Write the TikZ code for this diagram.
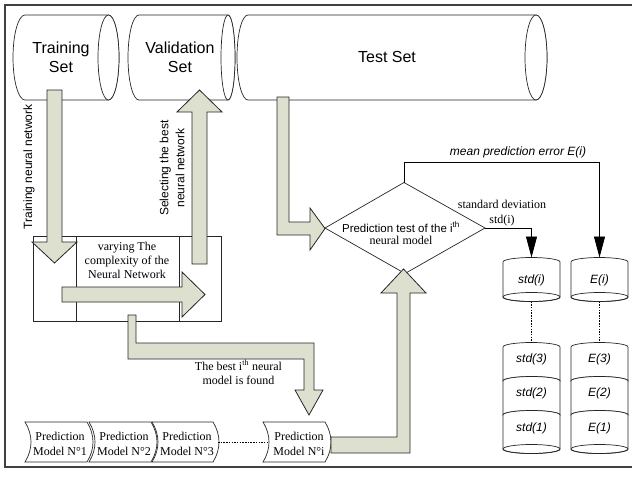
\documentclass[tikz,border=0pt]{standalone}
\usepackage{fontspec}
\setmainfont{Liberation Serif}
\setsansfont{Liberation Sans}
\usetikzlibrary{arrows.meta}
\definecolor{arrowfill}{RGB}{221,224,206}
\newcommand{\myhcyl}[4]{%
 \draw[shp] (#1,15) -- (#2,15)
  .. controls ({#2+0.5523*#4},15) and ({#2+#4},34.03) .. ({#2+#4},57.5)
  .. controls ({#2+#4},80.97) and ({#2+0.5523*#4},100) .. (#2,100)
  -- (#1,100)
  .. controls ({#1-0.5523*#3},100) and ({#1-#3},80.97) .. ({#1-#3},57.5)
  .. controls ({#1-#3},34.03) and ({#1-0.5523*#3},15) .. cycle;
 \draw[shp] (#2,57.5) ellipse [x radius=#4pt, y radius=42.5pt];}
\newcommand{\mydrum}[3]{%
 \draw[shp] ({#1-28.5},#2) .. controls ({#1-28.5},{#2-2.49}) and ({#1-15.74},{#2-4.5}) .. (#1,{#2-4.5})
  .. controls ({#1+15.74},{#2-4.5}) and ({#1+28.5},{#2-2.49}) .. ({#1+28.5},#2)
  -- ({#1+28.5},#3)
  .. controls ({#1+28.5},{#3+2.49}) and ({#1+15.74},{#3+4.5}) .. (#1,{#3+4.5})
  .. controls ({#1-15.74},{#3+4.5}) and ({#1-28.5},{#3+2.49}) .. ({#1-28.5},#3) -- cycle;
 \draw[shp,fill=none] (#1,#3) ellipse [x radius=28.5pt, y radius=4.5pt];}
\newcommand{\mypm}[2]{%
 \draw[shp] (#1,422) -- (#2,422) .. controls ({#2+8},435) and ({#2+8},449) .. (#2,462)
  -- (#1,462) .. controls ({#1+8},449) and ({#1+8},435) .. cycle;}
\begin{document}
\begin{tikzpicture}[x=1pt,y=-1pt,
  blk/.style={fill=arrowfill,draw=black!85,line width=0.8pt,line join=miter},
  shp/.style={draw=black!85,line width=0.7pt,fill=white},
  conn/.style={draw=black,line width=0.9pt},
  arrtip/.style={-{Triangle[length=21pt,width=11pt]}},
  dotln/.style={draw=black,line width=0.7pt,dash pattern=on 1.5pt off 1.2pt},
  sbig/.style={font=\sffamily\fontsize{16}{19}\selectfont,inner sep=0pt,align=center},
  ssmall/.style={font=\sffamily\fontsize{12}{16}\selectfont,inner sep=0pt,align=center},
  sitl/.style={font=\sffamily\itshape\fontsize{12}{14}\selectfont,inner sep=0pt,align=center},
  rm/.style={font=\rmfamily\fontsize{12}{14.5}\selectfont,inner sep=0pt,align=center}]
\useasboundingbox (0,0) rectangle (632,477);
% frame
\draw[line width=1.3pt,draw=black!75] (632,5) -- (5,5) -- (5,467) -- (632,467);
% data sets
\myhcyl{25}{108.5}{12}{10.5}
\myhcyl{139}{228}{11}{7}
\myhcyl{248}{536}{11}{11}
\node[sbig] (ttrain) at (61,57.5) {Training\\Set};
\node[sbig] (tval) at (180,57.5) {Validation\\Set};
\node[sbig] (ttest) at (387,57) {Test Set};
% varying box
\draw[shp] (33,236) rectangle (221,321);
\draw[shp] (76,236) -- (76,321);
\draw[shp] (179,236) -- (179,321);
\node[rm,font=\rmfamily\fontsize{12}{14}\selectfont] (tvary) at (127,260) {varying The\\complexity of the\\Neural Network};
% block arrows
\draw[blk] (47,90) -- (62,90) -- (62,242) -- (77,242) -- (54.5,263) -- (32,242) -- (47,242) -- cycle;
\draw[blk] (192,264) -- (207,264) -- (207,112) -- (222,112) -- (199.5,90) -- (177,112) -- (192,112) -- cycle;
\draw[blk] (62,287) -- (182,287) -- (182,272) -- (205,294.5) -- (182,317) -- (182,302) -- (62,302) -- cycle;
\draw[blk] (128,315) -- (136,315) -- (136,343) -- (314,343) -- (314,390) -- (323,390) -- (309,415) -- (295,390) -- (304,390) -- (304,359) -- (128,359) -- cycle;
\draw[blk] (277,97) -- (289,97) -- (289,222) -- (310,222) -- (310,208) -- (325,228.5) -- (310,250) -- (310,235) -- (277,235) -- cycle;
\node[ssmall,rotate=90] (ltrain) at (29,167) {Training neural network};
\node[ssmall,rotate=90] (lsel) at (172,168) {Selecting the best\\neural network};
\node[rm] (lbest) at (238.5,372.5) {The best i\textsuperscript{th} neural\\model is found};
% diamond
\coordinate (dL) at (325,228);
\coordinate (dT) at (404,182.5);
\coordinate (dR) at (485,228);
\coordinate (dB) at (405,273.5);
\draw[shp] (dL) -- (dT) -- (dR) -- (dB) -- cycle;
\node[font=\sffamily\fontsize{11.5}{14}\selectfont,inner sep=0pt] (dtxt1) at (401,227) {Prediction test of the i\textsuperscript{th}};
\node[rm] (dtxt2) at (401,240) {neural model};
% prediction models
\mypm{25}{87}
\mypm{89}{151}
\mypm{152}{213}
\mypm{263}{325}
\node[rm] (pm1) at (60,444) {Prediction\\Model N°1};
\node[rm] (pm2) at (124,444) {Prediction\\Model N°2};
\node[rm] (pm3) at (187,444) {Prediction\\Model N°3};
\node[rm] (pmi) at (299,444) {Prediction\\Model N°i};
\coordinate (pm3r) at (218,442);
\coordinate (pmil) at (268,442);
\draw[dotln] (pm3r) -- (pmil);
% up arrow to diamond
\draw[blk] (331,437) -- (397,437) -- (397,293) -- (381,293) -- (403.5,269) -- (426,293) -- (410,293) -- (410,453) -- (331,453) -- cycle;
% result stacks
\mydrum{531.5}{262}{297}
\mydrum{531.5}{347}{381}
\mydrum{531.5}{381}{415}
\mydrum{531.5}{415}{449}
\mydrum{599.5}{262}{297}
\mydrum{599.5}{347}{381}
\mydrum{599.5}{381}{415}
\mydrum{599.5}{415}{449}
\node[sitl] (si) at (531.5,280) {std(i)};
\node[sitl] (s3) at (531.5,359) {std(3)};
\node[sitl] (s2) at (531.5,393) {std(2)};
\node[sitl] (s1) at (531.5,428) {std(1)};
\node[sitl] (ei) at (599.5,280) {E(i)};
\node[sitl] (e3) at (599.5,359) {E(3)};
\node[sitl] (e2) at (599.5,393) {E(2)};
\node[sitl] (e1) at (599.5,428) {E(1)};
\coordinate (Sitop) at (531.5,257.5);
\coordinate (Eitop) at (599.5,257.5);
\coordinate (Sibot) at (531.5,301.5);
\coordinate (S3top) at (531.5,342.5);
\coordinate (Eibot) at (599.5,301.5);
\coordinate (E3top) at (599.5,342.5);
\draw[dotln] (Sibot) -- (S3top);
\draw[dotln] (Eibot) -- (E3top);
\draw[conn,arrtip] (dT) -- ++(0,-20) -| (Eitop);
\draw[conn,arrtip] (dR) -| (Sitop);
\node[sitl] (lmean) at (518,152) {mean prediction error E(i)};
\node[rm,font=\rmfamily\fontsize{12}{15}\selectfont] (lstd) at (502,213) {standard deviation\\std(i)};
\end{tikzpicture}
\end{document}
